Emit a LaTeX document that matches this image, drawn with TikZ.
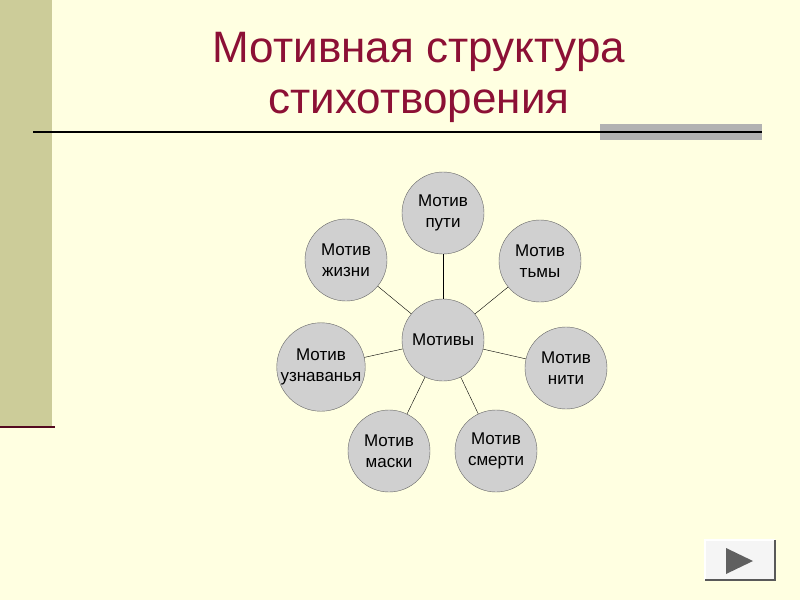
\documentclass[tikz,border=0pt]{standalone}
\usepackage{fontspec}
\setmainfont{Liberation Sans}
\definecolor{bg}{HTML}{FFFFE1}
\definecolor{sidebar}{HTML}{CCCC99}
\definecolor{titlered}{HTML}{8C1035}
\definecolor{motfill}{HTML}{D0D0D0}
\tikzset{motiv/.style={circle,draw=gray!80!black,fill=motfill,minimum size=82pt,inner sep=0pt,align=center,font=\fontsize{17}{21}\selectfont}}
\begin{document}
\begin{tikzpicture}[x=1pt,y=-1pt]
  % background and frame
  \fill[bg] (0,0) rectangle (800,600);
  \useasboundingbox (0,0) rectangle (800,600);
  \fill[sidebar] (0,0) rectangle (52,426);
  \draw[line width=2.5pt,color=titlered!60!black] (0,427) -- (55,427);
  \fill[gray!60] (600,124) rectangle (762,140);
  \draw[line width=2pt] (33,132) -- (762,132);
  \node[text=titlered,font=\fontsize{44}{51}\selectfont,align=center] (title) at (419,77)
    {Мотивная структура\\стихотворения};
  % motifs
  \node[motiv] (M) at (443,340) {Мотивы};
  \node[motiv] (put) at (443,213) {Мотив\\пути};
  \node[motiv] (tma) at (540,261) {Мотив\\тьмы};
  \node[motiv] (nit) at (566,368) {Мотив\\нити};
  \node[motiv] (smert) at (496,451) {Мотив\\смерти};
  \node[motiv] (mask) at (389,451) {Мотив\\маски};
  \node[motiv] (uzn) at (321,367) {Мотив\\узнаванья};
  \node[motiv] (zhizn) at (346,260) {Мотив\\жизни};
  \foreach \m in {put,tma,nit,smert,mask,uzn,zhizn}
    \draw (M) -- (\m);
  % button
  \fill[gray!8] (705,540) rectangle (775,580);
  \draw[white,line width=1.5pt] (705,580) -- (705,540) -- (775,540);
  \draw[gray!70!black,line width=1.5pt] (705,580) -- (775,580) -- (775,540);
  \fill[gray!75!black] (726,548) -- (726,574) -- (753,561) -- cycle;
\end{tikzpicture}
\end{document}
